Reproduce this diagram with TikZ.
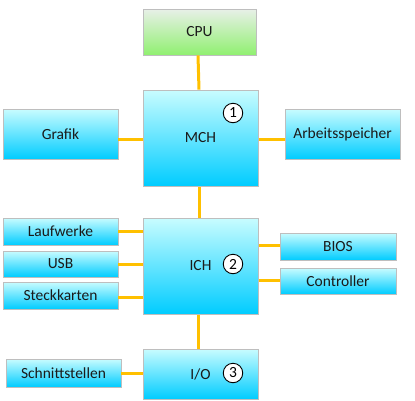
\documentclass[tikz,border=0pt]{standalone}
\usepackage{fontspec}
\setmainfont{Carlito}
\definecolor{bus}{HTML}{FFC000}
\definecolor{btop}{HTML}{C8FCFF}
\definecolor{bbot}{HTML}{00CCFF}
\definecolor{gtop}{HTML}{E8F0E8}
\definecolor{gbot}{HTML}{90F070}
\definecolor{frame}{HTML}{BEBEBE}
\definecolor{txt}{HTML}{1A1A1A}
\tikzset{
  blk/.style={draw=frame, line width=0.8pt, top color=btop, bottom color=bbot,
    minimum width=#1, inner sep=0pt, text=txt, font=\fontsize{15.5}{17}\selectfont},
  blk/.default=115pt,
  cpubox/.style={draw=frame, line width=0.8pt, top color=gtop, bottom color=gbot,
    inner sep=0pt, text=txt, font=\fontsize{15.5}{17}\selectfont},
  busline/.style={draw=bus, line width=3pt},
  numc/.style={circle, draw=black, fill=white, line width=0.9pt, minimum size=19.5pt,
    inner sep=0pt, font=\fontsize{15.5}{17}\selectfont}
}
\begin{document}
\begin{tikzpicture}[x=1pt,y=-1pt]
\useasboundingbox (0,0) rectangle (415,400);
\node[cpubox, minimum width=113pt, minimum height=46pt] (cpu) at (199.5,32) {CPU};
\node[blk, minimum height=96pt] (mch) at (200.5,138) {MCH};
\node[blk, minimum height=50pt] (grafik) at (60.5,134) {Grafik};
\node[blk, minimum height=50pt] (arb) at (342.5,134) {Arbeitsspeicher};
\node[blk, minimum height=96pt] (ich) at (200.5,266) {ICH};
\node[blk, minimum height=27pt] (lauf) at (60.5,231.5) {Laufwerke};
\node[blk, minimum height=26pt] (usb) at (60.5,264) {USB};
\node[blk, minimum height=27pt] (steck) at (60.5,295.5) {Steckkarten};
\node[blk=116pt, minimum height=27pt] (bios) at (338,246.5) {BIOS};
\node[blk=116pt, minimum height=26pt] (ctrl) at (338,281) {Controller};
\node[blk, minimum height=50pt] (io) at (200.5,374) {I/O};
\node[blk, minimum height=28pt] (schn) at (63.5,373) {Schnittstellen};
% connectors
\draw[busline] ([xshift=-1.5pt]cpu.south) -- ([xshift=-1.5pt]mch.north);
\draw[busline] ([xshift=-1.5pt]mch.south) -- ([xshift=-1.5pt]ich.north);
\draw[busline] ([xshift=-2.5pt]ich.south) -- ([xshift=-2.5pt]io.north);
\draw[busline] ([yshift=-1pt]mch.west) -- ([yshift=-1pt]mch.west -| grafik.east);
\draw[busline] ([yshift=-1pt]mch.east) -- ([yshift=-1pt]mch.east -| arb.west);
\draw[busline] (lauf.east) -- (lauf.east -| ich.west);
\draw[busline] (usb.east) -- (usb.east -| ich.west);
\draw[busline] ([yshift=-1.5pt]steck.east) -- ([yshift=-1.5pt]steck.east -| ich.west);
\draw[busline] ([yshift=1.5pt]bios.west) -- ([yshift=1.5pt]bios.west -| ich.east);
\draw[busline] ([yshift=1pt]ctrl.west) -- ([yshift=1pt]ctrl.west -| ich.east);
\draw[busline] (schn.east) -- (schn.east -| io.west);
% redraw boxes over line ends
\node[blk, minimum height=96pt] at (mch) {MCH};
\node[blk, minimum height=96pt] at (ich) {ICH};
\node[blk, minimum height=50pt] at (io) {I/O};
\node[numc] (n1) at (233,113) {1};
\node[numc] (n2) at (233,264) {2};
\node[numc] (n3) at (233,373) {3};
\end{tikzpicture}
\end{document}
